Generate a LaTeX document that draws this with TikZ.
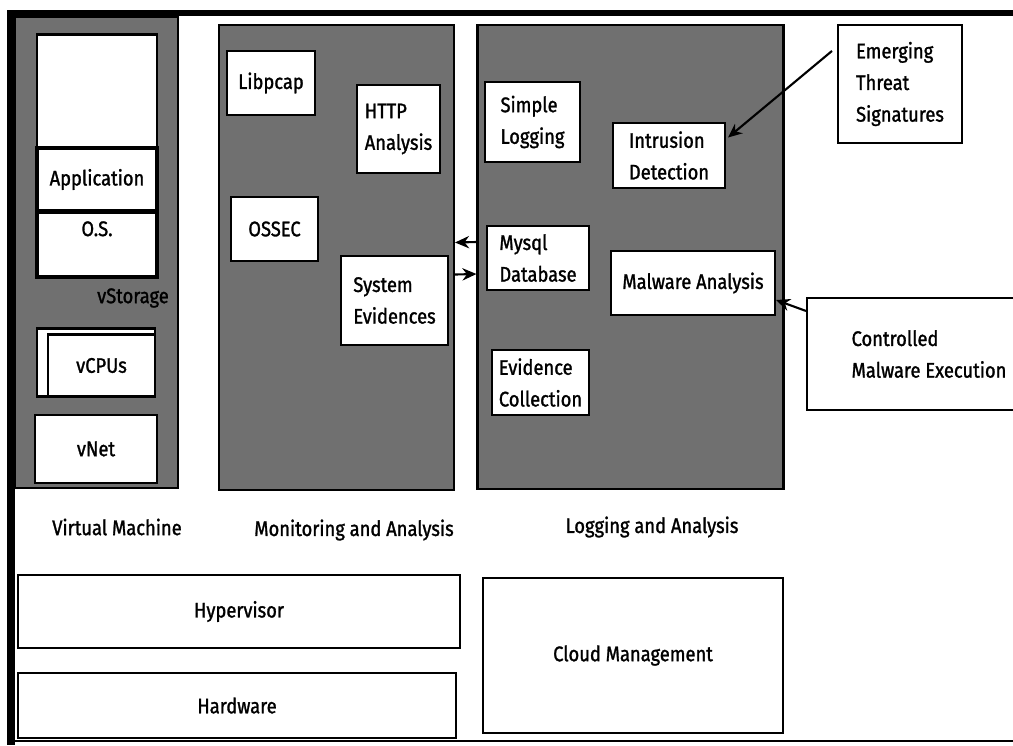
\documentclass[tikz,border=0pt]{standalone}
\usepackage{fontspec}
\setmainfont{Fira Sans}[FakeStretch=0.87,FakeBold=1.3]
\usetikzlibrary{arrows.meta,positioning}
\definecolor{panelgray}{RGB}{112,112,112}

\begin{document}
\begin{tikzpicture}[x=0.02cm,y=-0.02cm,>={Stealth[length=8pt,width=7pt]},
  every node/.style={align=left,font=\fontsize{12}{18}\selectfont},
  panel/.style={draw,line width=1.2pt,fill=panelgray},
  box/.style={draw,line width=1.2pt,fill=white,inner sep=2pt},
  link/.style={->,line width=1.2pt}]
  \useasboundingbox (0,0) rectangle (1013,745);
  % frame
  \draw[line width=3.4pt] (8,13) -- (1013,13);
  \draw[line width=1.2pt] (11,741) -- (1013,741);
  \draw[line width=4pt] (11,10) -- (11,745);

  % virtual machine
  \node[panel,minimum width=3.26cm,minimum height=9.42cm] (vm) at (96.5,252.5) {};
  \node[box,minimum width=2.4cm,minimum height=4.84cm] (vstore) at (97,155.5) {};
  \node[box,line width=1.8pt,minimum width=2.4cm,minimum height=1.26cm] (app) at (97,179.5) {Application};
  \node[box,line width=1.8pt,minimum width=2.4cm,minimum height=1.3cm] (os) at (97,244.5) {O.S.\\\mbox{}};
  \node (vstoragelbl) at (133,298) {vStorage};
  \node[box,minimum width=2.36cm,minimum height=1.36cm] (cpuback) at (96,362.5) {};
  \node[box,minimum width=2.14cm,minimum height=1.24cm] (vcpus) at (101.5,365.5) {vCPUs};
  \node[box,minimum width=2.44cm,minimum height=1.36cm] (vnet) at (96,449) {vNet};

  % monitoring
  \node[panel,minimum width=4.7cm,minimum height=9.3cm] (mon) at (336.5,257.5) {};
  \node[box,minimum width=1.76cm,minimum height=1.28cm] (libpcap) at (271,83) {Libpcap};
  \node[box,minimum width=1.66cm,minimum height=1.76cm] (http) at (398.5,129) {HTTP\\Analysis};
  \node[box,minimum width=1.74cm,minimum height=1.28cm] (ossec) at (274.5,229) {OSSEC};
  \node[box,minimum width=2.14cm,minimum height=1.78cm] (sysev) at (394.5,300.5) {System\\Evidences};

  % logging
  \node[panel,minimum width=6.12cm,minimum height=9.28cm] (log) at (630.5,257) {};
  \node[box,minimum width=1.9cm,minimum height=1.6cm] (simplelog) at (532.5,122) {Simple\\Logging};
  \node[box,minimum width=2.24cm,minimum height=1.3cm] (intrusion) at (669,155.5) {Intrusion\\Detection};
  \node[box,minimum width=2.04cm,minimum height=1.28cm] (mysql) at (538,258) {Mysql\\Database};
  \node[box,minimum width=3.28cm,minimum height=1.28cm] (malware) at (693,283) {Malware Analysis};
  \node[box,minimum width=1.94cm,minimum height=1.3cm] (evidence) at (540.5,382.5) {Evidence\\Collection};

  % outside inputs
  \node[box,minimum width=2.48cm,minimum height=2.36cm] (emerging) at (900,84) {Emerging\\Threat\\Signatures};
  \node[box,minimum width=4.88cm,minimum height=2.24cm] (controlled) at (929,354) {Controlled\\Malware Execution};

  \draw[link] ([shift={(-5,27)}]emerging.north west) -- ([shift={(2,-18)}]intrusion.east);
  \draw[link] ([shift={(0,14)}]controlled.north west) -- ([shift={(0,17)}]malware.east);
  \draw[link] ([shift={(0,-15)}]log.west) -- ([shift={(0,-15)}]mon.east);
  \draw[link] ([shift={(0,17)}]mon.east) -- ([shift={(0,17)}]log.west);

  % captions
  \node (vmlbl) at (117,527) {Virtual Machine};
  \node (monlbl) at (354,530) {Monitoring and Analysis};
  \node (loglbl) at (652,527) {Logging and Analysis};

  % lower layers
  \node[box,minimum width=8.84cm,minimum height=1.46cm] (hyper) at (239,611.5) {Hypervisor};
  \node[box,minimum width=8.76cm,minimum height=1.3cm] (hw) at (237,705.5) {Hardware};
  \node[box,minimum width=6cm,minimum height=3.1cm] (cloud) at (633,655.5) {Cloud Management};
\end{tikzpicture}
\end{document}
